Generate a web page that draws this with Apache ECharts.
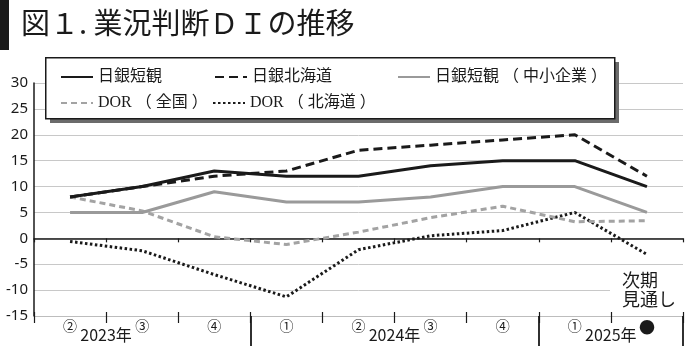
<!DOCTYPE html>
<html><head><meta charset="utf-8">
<script src="https://cdn.jsdelivr.net/npm/echarts@6/dist/echarts.min.js"></script>
<style>html,body{margin:0;padding:0;background:#fff}#c{width:693px;height:346px}</style>
</head><body><div id="c"></div>
<script>
const categories = ['②','③','④','①','②','③','④','①','●'];
const yearLabels = ['2023年','','','','2024年','','','2025年',''];
const yearBoundaryIdx = [3,7];
const yTicks = {min:-15, max:30, interval:5};
const seriesNames = ['日銀短観','日銀北海道','日銀短観（中小企業）','DOR（全国）','DOR（北海道）'];
const tankan = [8,10,13,12,12,14,15,15,10];
const tankanHokkaido = [8,10,12,13,17,18,19,20,12];
const tankanSme = [5,5,9,7,7,8,10,10,5];
const dorNational = [8,5.3,0.3,-1.2,1.2,4,6.2,3.2,3.4];
const dorHokkaido = [-0.6,-2.4,-7,-11.3,-2.2,0.5,1.5,5,-3.1];
const titleText = '図１. 業況判断ＤＩの推移';
const noteText = '次期\n見通し';

const FONT = '"Noto Sans CJK JP","Noto Sans",sans-serif';
const LFONT = '"Liberation Serif","Noto Sans CJK JP",serif';
const chart = echarts.init(document.getElementById('c'), null, {renderer:'canvas'});

const styles = [
  {color:'#1a1a1a', width:3, type:'solid'},
  {color:'#1a1a1a', width:3, type:[9,5]},
  {color:'#9a9a9a', width:3, type:'solid'},
  {color:'#a3a3a3', width:3, type:[6,4]},
  {color:'#1a1a1a', width:3, type:[2.5,2.5]}
];
const datas = [tankan, tankanHokkaido, tankanSme, dorNational, dorHokkaido];

const legendPos = [[60,69],[214,69],[397,69],[60,95],[212,95]];
const legends = seriesNames.map((n,i)=>({
  data:[n], left:legendPos[i][0], top:legendPos[i][1], padding:0, z:50,
  itemWidth:32, itemHeight:14, selectedMode:false,
  itemStyle:{color:'rgba(0,0,0,0)', borderWidth:0},
  formatter: s => s.replace(/（/g,'{p|（}').replace(/）/g,'{p|）}'),
  textStyle:{fontFamily:LFONT, fontSize:16, color:'#1a1a1a',
    rich:{p:{fontFamily:LFONT, fontSize:16, color:'#1a1a1a', padding:[0,4,0,4]}}}
}));

const baseX = {type:'category', data:categories, boundaryGap:true, gridIndex:0};
chart.setOption({
  animation:false,
  backgroundColor:'#fff',
  grid:{left:34, right:10, top:83, bottom:30},
  legend:legends,
  xAxis:[
    Object.assign({}, baseX, {
      position:'bottom', axisLine:{onZero:false, lineStyle:{color:'#bdbdbd', width:1}},
      axisTick:{show:true, length:7, lineStyle:{color:'#1a1a1a', width:1.2}},
      axisLabel:{interval:0, margin:3, fontFamily:FONT, fontSize:14, color:'#1a1a1a',
        formatter:v=> v==='●' ? '{b|●}' : v,
        rich:{b:{fontSize:16, fontFamily:FONT, color:'#1a1a1a', padding:[0,0,1,0]}}},
      splitLine:{show:false}
    }),
    Object.assign({}, baseX, {
      position:'bottom', axisLine:{show:false, onZero:false},
      axisTick:{show:true, length:30, interval:(idx)=>yearBoundaryIdx.includes(idx), lineStyle:{color:'#1a1a1a', width:1.8}},
      axisLabel:{interval:0, margin:11, fontFamily:FONT, fontSize:16, color:'#1a1a1a', padding:[0,0,0,72],
        formatter:(v,i)=>yearLabels[i]},
      splitLine:{show:false}
    }),
    Object.assign({}, baseX, {
      position:'bottom', axisLine:{show:true, onZero:true, lineStyle:{color:'#1a1a1a', width:1.5}},
      axisTick:{show:true, length:4, lineStyle:{color:'#1a1a1a', width:1.2}},
      axisLabel:{show:false}, splitLine:{show:false}
    }),
    Object.assign({}, baseX, {
      position:'bottom', axisLine:{show:false, onZero:true},
      axisTick:{show:true, inside:true, length:4, lineStyle:{color:'#1a1a1a', width:1.2}},
      axisLabel:{show:false}, splitLine:{show:false}
    })
  ],
  yAxis:{type:'value', min:yTicks.min, max:yTicks.max, interval:yTicks.interval,
    axisLine:{show:true, lineStyle:{color:'#1a1a1a', width:1.5}},
    axisTick:{show:false},
    axisLabel:{margin:6, fontFamily:'"Noto Sans",sans-serif', fontSize:15, color:'#1a1a1a'},
    splitLine:{lineStyle:{color:'#c8c8c8', width:1}}
  },
  series:seriesNames.map((n,i)=>({
    name:n, type:'line', xAxisIndex:0, data:datas[i], symbol:'none', z:3+ (4-i),
    lineStyle:{color:styles[i].color, width:styles[i].width, type:styles[i].type, cap:'butt'},
    itemStyle:{color:styles[i].color}
  })),
  graphic:[
    {type:'rect', left:0, top:0, z:40, shape:{width:9, height:50}, style:{fill:'#1a1a1a'}},
    {type:'text', left:21, top:8, z:40, style:{text:titleText, font:'29px '+FONT, fill:'#1a1a1a'}},
    {type:'rect', left:50, top:62, z:39, shape:{width:569, height:61}, style:{fill:'#6b6b6b'}},
    {type:'rect', left:45, top:57, z:40, shape:{width:569, height:61}, style:{fill:'#fff', stroke:'#1a1a1a', lineWidth:1.5}},
    {type:'text', left:610, top:270, z:40, style:{text:noteText, font:'18px '+FONT, lineHeight:19, fill:'#1a1a1a', backgroundColor:'#fff', padding:[1,8,2,12]}}
  ]
});
</script></body></html>
